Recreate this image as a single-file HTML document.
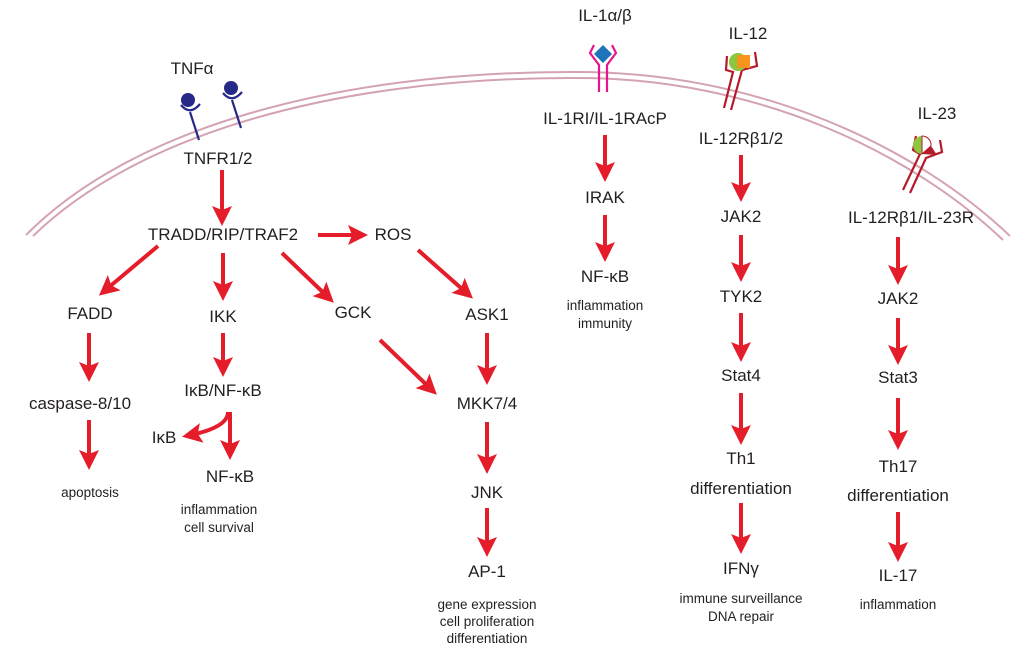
<!DOCTYPE html>
<html><head><meta charset="utf-8"><style>
html,body{margin:0;padding:0;background:#fff;}
svg{display:block;}
text{font-family:"Liberation Sans",sans-serif;fill:#231f20;text-anchor:middle;}
.t{font-size:17px;}
.s{font-size:13.5px;}
</style></head><body>
<svg width="1024" height="658" viewBox="0 0 1024 658" xmlns="http://www.w3.org/2000/svg">
<defs>
<marker id="a" markerWidth="10" markerHeight="10" refX="7" refY="5" orient="auto" markerUnits="userSpaceOnUse" viewBox="0 0 10 10">
</marker>
<marker id="h" viewBox="0 0 10 10" refX="8" refY="5" markerWidth="5" markerHeight="5" orient="auto"><path d="M0,0 L10,5 L0,10 L2,5 z" fill="#e51d2a"/></marker>
</defs>
<!-- membrane -->
<g fill="none" stroke="#d4a3b1" stroke-width="2">
<path d="M26,235 C130,130 330,72 570,72 C760,70 920,150 1010,236"/>
<path d="M33,236 C137,135 333,78 570,78 C757,76 914,155 1003,240"/>
</g>
<!-- TNF receptors -->
<g stroke="#262a86" stroke-width="2.2" fill="none">
<path d="M181,105 Q190,116 200,104"/><line x1="190" y1="112" x2="199" y2="140"/>
<path d="M223,93 Q232,104 242,92"/><line x1="232" y1="100" x2="241" y2="128"/>
</g>
<circle cx="188" cy="100" r="7" fill="#262a86"/>
<circle cx="231" cy="88" r="7" fill="#262a86"/>
<!-- IL-1 receptor -->
<g stroke="#e6158c" stroke-width="2.2" fill="none">
<path d="M594,45 L590,53 L599,65 L599,92"/>
<path d="M612,45 L616,53 L607,65 L607,92"/>
</g>
<path d="M603,45 L612,54 L603,63 L594,54 z" fill="#1f73b8"/>
<!-- IL-12 receptor -->
<g stroke="#b51a2b" stroke-width="2.2" fill="none">
<path d="M727,56 L726,70 L733,72 L724,108"/>
<path d="M755,52 L757,66 L742,70 L731,110"/>
</g>
<circle cx="738" cy="62" r="9" fill="#8dc63f"/>
<rect x="737" y="55" width="13" height="13" fill="#f7941d"/>
<!-- IL-23 receptor -->
<g stroke="#b51a2b" stroke-width="2.2" fill="none">
<path d="M916,136 L913,150 L920,154 L903,190"/>
<path d="M940,140 L942,152 L926,158 L910,193"/>
</g>
<path d="M922,136 A9,9 0 0 0 922,154 z" fill="#8dc63f"/>
<path d="M922,136 A9,9 0 0 1 931,146 L922,154 z" fill="#fff" stroke="#b51a2b" stroke-width="1"/>
<path d="M931,146 L922,154 L937,155 z" fill="#b51a2b"/>
<!-- arrows -->
<g stroke="#e51d2a" stroke-width="4" fill="none" marker-end="url(#h)">
<line x1="222" y1="170" x2="222" y2="222"/>
<line x1="318" y1="235" x2="364" y2="235"/>
<line x1="158" y1="246" x2="102" y2="293"/>
<line x1="223" y1="253" x2="223" y2="297"/>
<line x1="282" y1="253" x2="331" y2="300"/>
<line x1="418" y1="250" x2="470" y2="296"/>
<line x1="89" y1="333" x2="89" y2="378"/>
<line x1="223" y1="333" x2="223" y2="373"/>
<line x1="89" y1="420" x2="89" y2="466"/>
<line x1="230" y1="412" x2="230" y2="456"/>
<path d="M228,412 Q228,428 186,436"/>
<line x1="380" y1="340" x2="434" y2="392"/>
<line x1="487" y1="333" x2="487" y2="381"/>
<line x1="487" y1="422" x2="487" y2="470"/>
<line x1="487" y1="508" x2="487" y2="553"/>
<line x1="605" y1="135" x2="605" y2="178"/>
<line x1="605" y1="215" x2="605" y2="258"/>
<line x1="741" y1="155" x2="741" y2="198"/>
<line x1="741" y1="235" x2="741" y2="278"/>
<line x1="741" y1="313" x2="741" y2="358"/>
<line x1="741" y1="393" x2="741" y2="441"/>
<line x1="741" y1="503" x2="741" y2="550"/>
<line x1="898" y1="237" x2="898" y2="281"/>
<line x1="898" y1="318" x2="898" y2="361"/>
<line x1="898" y1="398" x2="898" y2="446"/>
<line x1="898" y1="512" x2="898" y2="558"/>
</g>
<!-- labels -->
<g class="t">
<text x="192" y="74">TNFα</text>
<text x="218" y="164">TNFR1/2</text>
<text x="223" y="240">TRADD/RIP/TRAF2</text>
<text x="393" y="240">ROS</text>
<text x="90" y="319">FADD</text>
<text x="223" y="322">IKK</text>
<text x="353" y="318">GCK</text>
<text x="487" y="320">ASK1</text>
<text x="80" y="409">caspase-8/10</text>
<text x="223" y="396">IκB/NF-κB</text>
<text x="164" y="443">IκB</text>
<text x="230" y="482">NF-κB</text>
<text x="487" y="409">MKK7/4</text>
<text x="487" y="498">JNK</text>
<text x="487" y="577">AP-1</text>
<text x="605" y="21">IL-1α/β</text>
<text x="605" y="124">IL-1RI/IL-1RAcP</text>
<text x="605" y="203">IRAK</text>
<text x="605" y="282">NF-κB</text>
<text x="748" y="39">IL-12</text>
<text x="741" y="144">IL-12Rβ1/2</text>
<text x="741" y="222">JAK2</text>
<text x="741" y="302">TYK2</text>
<text x="741" y="381">Stat4</text>
<text x="741" y="464">Th1</text>
<text x="741" y="494">differentiation</text>
<text x="741" y="574">IFNγ</text>
<text x="937" y="119">IL-23</text>
<text x="911" y="223">IL-12Rβ1/IL-23R</text>
<text x="898" y="304">JAK2</text>
<text x="898" y="383">Stat3</text>
<text x="898" y="472">Th17</text>
<text x="898" y="501">differentiation</text>
<text x="898" y="581">IL-17</text>
</g>
<g class="s">
<text x="90" y="497">apoptosis</text>
<text x="219" y="514">inflammation</text>
<text x="219" y="532">cell survival</text>
<text x="487" y="609">gene expression</text>
<text x="487" y="626">cell proliferation</text>
<text x="487" y="643">differentiation</text>
<text x="605" y="310">inflammation</text>
<text x="605" y="328">immunity</text>
<text x="741" y="603">immune surveillance</text>
<text x="741" y="621">DNA repair</text>
<text x="898" y="609">inflammation</text>
</g>
</svg>
</body></html>
